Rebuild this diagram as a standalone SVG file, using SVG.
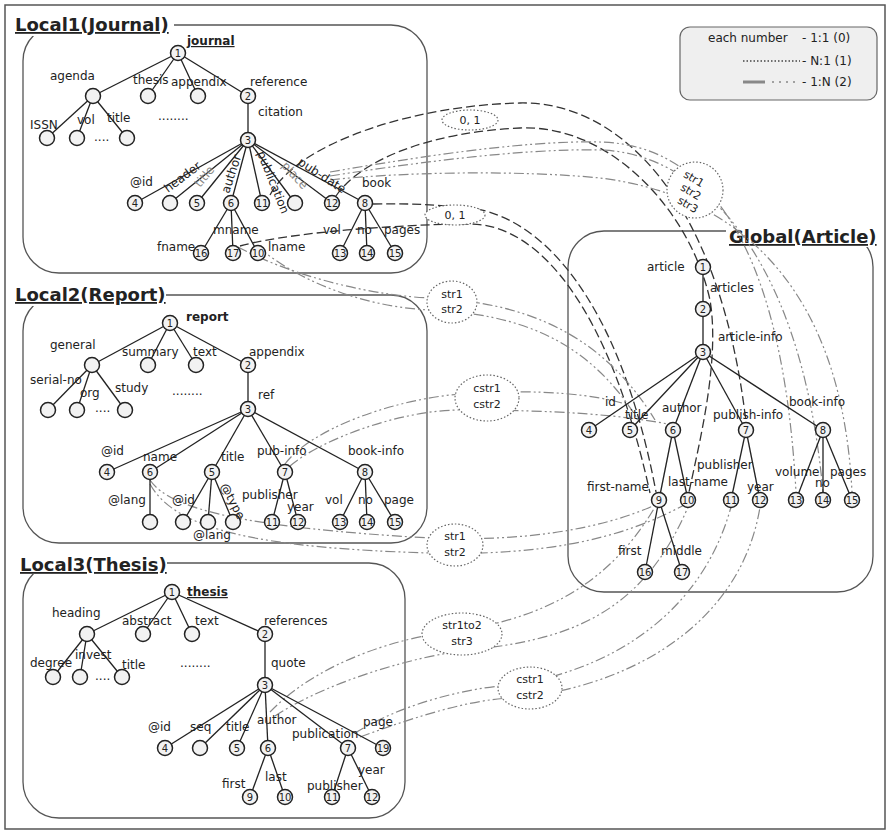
<svg xmlns="http://www.w3.org/2000/svg" width="890" height="834" viewBox="0 0 890 834">
<style>
text{font-family:"DejaVu Sans","Verdana",sans-serif;font-size:12px;fill:#222}
.t{font-size:18px;font-weight:bold;text-decoration:underline}
.b{font-weight:bold}
.u{text-decoration:underline}
.g{fill:#888}
.num{font-size:10px;text-anchor:middle}
.box{fill:none;stroke:#555;stroke-width:1.3}
.c{fill:#f2f2f2;stroke:#222;stroke-width:1.5}
.dsh{fill:none;stroke:#333;stroke-width:1.3;stroke-dasharray:9 4}
.dd{fill:none;stroke:#888;stroke-width:1.2;stroke-dasharray:10 3 2 3 2 3}
.dt{fill:#fff;stroke:#666;stroke-width:1.2;stroke-dasharray:1.5 2}
.lab{font-size:11px;text-anchor:middle}
</style>
<rect x="5" y="5" width="880" height="824" fill="#fff" stroke="#555" stroke-width="1.5"/>

<!-- boxes -->
<g id="local1-box"><rect class="box" x="23" y="25" width="404" height="248" rx="36"/><rect x="12" y="11" width="162" height="25" fill="#fff"/><text class="t" x="15" y="31">Local1(Journal)</text></g>
<g id="local2-box"><rect class="box" x="23" y="295" width="404" height="248" rx="36"/><rect x="12" y="281" width="154" height="25" fill="#fff"/><text class="t" x="15" y="301">Local2(Report)</text></g>
<g id="local3-box"><rect class="box" x="23" y="563" width="382" height="255" rx="36"/><rect x="17" y="551" width="150" height="23" fill="#fff"/><text class="t" x="20" y="571">Local3(Thesis)</text></g>
<g id="global-box"><rect class="box" x="568" y="231" width="305" height="361" rx="36"/><rect x="726" y="222" width="154" height="25" fill="#fff"/><text class="t" x="729" y="243">Global(Article)</text></g>

<g id="legend">
<rect x="680" y="27" width="197" height="73" rx="10" fill="#efefef" stroke="#666" stroke-width="1.2"/>
<text x="708" y="42">each number</text><text x="802" y="42">-  1:1 (0)</text>
<line x1="743" y1="61" x2="800" y2="61" stroke="#444" stroke-width="1.5" stroke-dasharray="1.5 2"/>
<text x="802" y="65">-  N:1 (1)</text>
<line x1="743" y1="82" x2="765" y2="82" stroke="#888" stroke-width="3"/>
<line x1="772" y1="82" x2="800" y2="82" stroke="#888" stroke-width="1.5" stroke-dasharray="2 5"/>
<text x="802" y="86">-  1:N (2)</text>
</g>

<!-- connectors -->
<g id="connectors">
<path class="dsh" d="M270,195 C300,140 420,105 520,103 C620,101 720,200 746,422"/>
<path class="dsh" d="M336,196 C360,160 430,132 520,128 C610,124 690,210 710,300 C720,360 700,440 689,492"/>
<path class="dsh" d="M373,204 C420,203 440,206 460,207 C540,210 620,300 656,492"/>
<path class="dsh" d="M240,246 C300,230 420,224 470,224 C540,224 610,310 650,493"/>
<path class="dd" d="M330,172 C400,160 520,140 600,142 C680,144 780,200 796,492"/>
<path class="dd" d="M330,176 C400,165 520,148 600,150 C690,152 800,240 823,492"/>
<path class="dd" d="M330,180 C400,172 520,170 600,178 C700,190 840,250 852,492"/>
<path class="dd" d="M238,247 C300,280 380,296 430,298 C520,302 600,330 655,420"/>
<path class="dd" d="M258,247 C310,290 380,308 430,310 C520,314 590,340 640,423"/>
<path class="dd" d="M285,464 C310,430 390,400 460,394 C540,388 600,395 628,405"/>
<path class="dd" d="M290,466 C320,440 400,410 460,410 C560,410 620,415 668,424"/>
<path class="dd" d="M150,480 C170,510 250,528 430,538 C520,542 600,530 655,505"/>
<path class="dd" d="M150,484 C175,530 260,548 430,553 C540,556 620,540 684,505"/>
<path class="dd" d="M270,712 C320,660 400,640 430,635 C520,624 600,600 655,507"/>
<path class="dd" d="M275,716 C330,680 420,655 470,650 C560,640 640,620 688,507"/>
<path class="dd" d="M355,733 C400,705 460,690 500,686 C600,676 700,620 731,507"/>
<path class="dd" d="M360,737 C420,715 470,700 510,698 C620,690 740,630 760,507"/>
<ellipse class="dt" cx="470" cy="120" rx="28" ry="10"/><text class="lab" x="470" y="124">0, 1</text>
<ellipse class="dt" cx="455" cy="215" rx="30" ry="10"/><text class="lab" x="455" y="219">0, 1</text>
<ellipse class="dt" cx="695" cy="190" rx="28" ry="28"/>
<text class="lab" x="692" y="182" transform="rotate(30 692 182)">str1</text>
<text class="lab" x="689" y="195" transform="rotate(30 689 195)">str2</text>
<text class="lab" x="686" y="208" transform="rotate(30 686 208)">str3</text>
<ellipse class="dt" cx="452" cy="302" rx="25" ry="21"/><text class="lab" x="452" y="298">str1</text><text class="lab" x="452" y="313">str2</text>
<ellipse class="dt" cx="487" cy="398" rx="32" ry="23"/><text class="lab" x="487" y="392">cstr1</text><text class="lab" x="487" y="408">cstr2</text>
<ellipse class="dt" cx="455" cy="545" rx="28" ry="21"/><text class="lab" x="455" y="540">str1</text><text class="lab" x="455" y="556">str2</text>
<ellipse class="dt" cx="462" cy="634" rx="40" ry="21"/><text class="lab" x="462" y="629">str1to2</text><text class="lab" x="462" y="645">str3</text>
<ellipse class="dt" cx="530" cy="688" rx="32" ry="21"/><text class="lab" x="530" y="683">cstr1</text><text class="lab" x="530" y="699">cstr2</text>
</g>

<!-- Local1 tree -->
<g id="local1-edges" stroke="#222" stroke-width="1.3">
<line x1="178" y1="53" x2="93" y2="96"/><line x1="178" y1="53" x2="148" y2="96"/><line x1="178" y1="53" x2="198" y2="96"/><line x1="178" y1="53" x2="248" y2="96"/>
<line x1="93" y1="96" x2="47" y2="138"/><line x1="93" y1="96" x2="77" y2="138"/><line x1="93" y1="96" x2="127" y2="138"/>
<line x1="248" y1="96" x2="248" y2="140"/>
<line x1="248" y1="140" x2="135" y2="203"/><line x1="248" y1="140" x2="170" y2="203"/><line x1="248" y1="140" x2="197" y2="203"/><line x1="248" y1="140" x2="231" y2="203"/><line x1="248" y1="140" x2="262" y2="203"/><line x1="248" y1="140" x2="295" y2="203"/><line x1="248" y1="140" x2="332" y2="203"/><line x1="248" y1="140" x2="365" y2="203"/>
<line x1="231" y1="203" x2="201" y2="253"/><line x1="231" y1="203" x2="233" y2="253"/><line x1="231" y1="203" x2="258" y2="253"/>
<line x1="365" y1="203" x2="340" y2="253"/><line x1="365" y1="203" x2="367" y2="253"/><line x1="365" y1="203" x2="395" y2="253"/>
</g>
<g id="l1-n1"><circle class="c" cx="178" cy="53" r="7.5"/><text class="num" x="178" y="57">1</text><text class="b u" x="187" y="45">journal</text></g>
<g id="l1-agenda"><circle class="c" cx="93" cy="96" r="7.5"/><text x="50" y="80">agenda</text></g>
<g id="l1-thesis"><circle class="c" cx="148" cy="96" r="7.5"/><text x="133" y="84">thesis</text></g>
<g id="l1-appendix"><circle class="c" cx="198" cy="96" r="7.5"/><text x="171" y="86">appendix</text></g>
<g id="l1-n2"><circle class="c" cx="248" cy="96" r="7.5"/><text class="num" x="248" y="100">2</text><text x="250" y="86">reference</text><text x="258" y="116">citation</text></g>
<g id="l1-issn"><circle class="c" cx="47" cy="138" r="7.5"/><text x="30" y="129">ISSN</text></g>
<g id="l1-vol"><circle class="c" cx="77" cy="138" r="7.5"/><text x="77" y="124">vol</text><text x="94" y="141" font-size="8">....</text></g>
<g id="l1-title"><circle class="c" cx="127" cy="138" r="7.5"/><text x="107" y="122">title</text><text x="158" y="120" font-size="8">........</text></g>
<g id="l1-n3"><circle class="c" cx="248" cy="140" r="7.5"/><text class="num" x="248" y="144">3</text></g>
<g id="l1-n4"><circle class="c" cx="135" cy="203" r="7.5"/><text class="num" x="135" y="207">4</text><text x="130" y="186">@id</text></g>
<g id="l1-header"><circle class="c" cx="170" cy="203" r="7.5"/><text x="168" y="193" transform="rotate(-37 168 193)">header</text></g>
<g id="l1-n5"><circle class="c" cx="197" cy="203" r="7.5"/><text class="num" x="197" y="207">5</text><text class="g" x="200" y="188" transform="rotate(-50 200 188)">title</text></g>
<g id="l1-n6"><circle class="c" cx="231" cy="203" r="7.5"/><text class="num" x="231" y="207">6</text><text x="229" y="194" transform="rotate(-72 229 194)">author</text></g>
<g id="l1-n11"><circle class="c" cx="262" cy="203" r="7.5"/><text class="num" x="262" y="207">11</text><text x="257" y="153" transform="rotate(68 257 153)">publication</text></g>
<g id="l1-place"><circle class="c" cx="295" cy="203" r="7.5"/><text class="g" x="281" y="166" transform="rotate(48 281 166)">place</text></g>
<g id="l1-n12"><circle class="c" cx="332" cy="203" r="7.5"/><text class="num" x="332" y="207">12</text><text x="297" y="164" transform="rotate(33 297 164)">pub-date</text></g>
<g id="l1-n8"><circle class="c" cx="365" cy="203" r="7.5"/><text class="num" x="365" y="207">8</text><text x="362" y="187">book</text></g>
<g id="l1-n16"><circle class="c" cx="201" cy="253" r="7.5"/><text class="num" x="201" y="257">16</text><text x="157" y="251">fname</text></g>
<g id="l1-n17"><circle class="c" cx="233" cy="253" r="7.5"/><text class="num" x="233" y="257">17</text><text x="213" y="234">mname</text></g>
<g id="l1-n10"><circle class="c" cx="258" cy="253" r="7.5"/><text class="num" x="258" y="257">10</text><text x="268" y="251">lname</text></g>
<g id="l1-n13"><circle class="c" cx="340" cy="253" r="7.5"/><text class="num" x="340" y="257">13</text><text x="323" y="234">vol</text></g>
<g id="l1-n14"><circle class="c" cx="367" cy="253" r="7.5"/><text class="num" x="367" y="257">14</text><text x="357" y="234">no</text></g>
<g id="l1-n15"><circle class="c" cx="395" cy="253" r="7.5"/><text class="num" x="395" y="257">15</text><text x="384" y="234">pages</text></g>

<!-- Local2 tree -->
<g id="local2-edges" stroke="#222" stroke-width="1.3">
<line x1="170" y1="323" x2="92" y2="365"/><line x1="170" y1="323" x2="148" y2="365"/><line x1="170" y1="323" x2="196" y2="365"/><line x1="170" y1="323" x2="248" y2="365"/>
<line x1="92" y1="365" x2="48" y2="410"/><line x1="92" y1="365" x2="77" y2="410"/><line x1="92" y1="365" x2="125" y2="410"/>
<line x1="248" y1="365" x2="248" y2="409"/>
<line x1="248" y1="409" x2="107" y2="472"/><line x1="248" y1="409" x2="150" y2="472"/><line x1="248" y1="409" x2="212" y2="472"/><line x1="248" y1="409" x2="285" y2="472"/><line x1="248" y1="409" x2="365" y2="472"/>
<line x1="150" y1="472" x2="150" y2="522"/>
<line x1="212" y1="472" x2="183" y2="522"/><line x1="212" y1="472" x2="208" y2="522"/><line x1="212" y1="472" x2="233" y2="522"/>
<line x1="285" y1="472" x2="272" y2="522"/><line x1="285" y1="472" x2="298" y2="522"/>
<line x1="365" y1="472" x2="340" y2="522"/><line x1="365" y1="472" x2="367" y2="522"/><line x1="365" y1="472" x2="395" y2="522"/>
</g>
<g id="l2-n1"><circle class="c" cx="170" cy="323" r="7.5"/><text class="num" x="170" y="327">1</text><text class="b" x="186" y="321">report</text></g>
<g id="l2-general"><circle class="c" cx="92" cy="365" r="7.5"/><text x="50" y="349">general</text></g>
<g id="l2-summary"><circle class="c" cx="148" cy="365" r="7.5"/><text x="122" y="356">summary</text></g>
<g id="l2-text"><circle class="c" cx="196" cy="365" r="7.5"/><text x="193" y="356">text</text></g>
<g id="l2-n2"><circle class="c" cx="248" cy="365" r="7.5"/><text class="num" x="248" y="369">2</text><text x="249" y="356">appendix</text><text x="258" y="399">ref</text></g>
<g id="l2-serial"><circle class="c" cx="48" cy="410" r="7.5"/><text x="30" y="384">serial-no</text></g>
<g id="l2-org"><circle class="c" cx="77" cy="410" r="7.5"/><text x="80" y="397">org</text><text x="95" y="412" font-size="8">....</text></g>
<g id="l2-study"><circle class="c" cx="125" cy="410" r="7.5"/><text x="115" y="392">study</text><text x="172" y="395" font-size="8">........</text></g>
<g id="l2-n3"><circle class="c" cx="248" cy="409" r="7.5"/><text class="num" x="248" y="413">3</text></g>
<g id="l2-n4"><circle class="c" cx="107" cy="472" r="7.5"/><text class="num" x="107" y="476">4</text><text x="101" y="455">@id</text></g>
<g id="l2-n6"><circle class="c" cx="150" cy="472" r="7.5"/><text class="num" x="150" y="476">6</text><text x="143" y="461">name</text></g>
<g id="l2-n5"><circle class="c" cx="212" cy="472" r="7.5"/><text class="num" x="212" y="476">5</text><text x="221" y="461">title</text></g>
<g id="l2-n7"><circle class="c" cx="285" cy="472" r="7.5"/><text class="num" x="285" y="476">7</text><text x="257" y="455">pub-info</text></g>
<g id="l2-n8"><circle class="c" cx="365" cy="472" r="7.5"/><text class="num" x="365" y="476">8</text><text x="348" y="455">book-info</text></g>
<g id="l2-lang"><circle class="c" cx="150" cy="522" r="7.5"/><text x="108" y="504">@lang</text></g>
<g id="l2-id"><circle class="c" cx="183" cy="522" r="7.5"/><text x="172" y="504">@id</text></g>
<g id="l2-lang2"><circle class="c" cx="208" cy="522" r="7.5"/><text x="193" y="539">@lang</text></g>
<g id="l2-type"><circle class="c" cx="233" cy="522" r="7.5"/><text x="220" y="486" transform="rotate(62 220 486)">@type</text></g>
<g id="l2-n11"><circle class="c" cx="272" cy="522" r="7.5"/><text class="num" x="272" y="526">11</text><text x="242" y="499">publisher</text></g>
<g id="l2-n12"><circle class="c" cx="298" cy="522" r="7.5"/><text class="num" x="298" y="526">12</text><text x="287" y="511">year</text></g>
<g id="l2-n13"><circle class="c" cx="340" cy="522" r="7.5"/><text class="num" x="340" y="526">13</text><text x="325" y="504">vol</text></g>
<g id="l2-n14"><circle class="c" cx="367" cy="522" r="7.5"/><text class="num" x="367" y="526">14</text><text x="358" y="504">no</text></g>
<g id="l2-n15"><circle class="c" cx="395" cy="522" r="7.5"/><text class="num" x="395" y="526">15</text><text x="384" y="504">page</text></g>

<!-- Local3 tree -->
<g id="local3-edges" stroke="#222" stroke-width="1.3">
<line x1="172" y1="592" x2="87" y2="634"/><line x1="172" y1="592" x2="143" y2="634"/><line x1="172" y1="592" x2="192" y2="634"/><line x1="172" y1="592" x2="265" y2="634"/>
<line x1="87" y1="634" x2="53" y2="677"/><line x1="87" y1="634" x2="80" y2="677"/><line x1="87" y1="634" x2="122" y2="677"/>
<line x1="265" y1="634" x2="265" y2="685"/>
<line x1="265" y1="685" x2="165" y2="748"/><line x1="265" y1="685" x2="200" y2="748"/><line x1="265" y1="685" x2="237" y2="748"/><line x1="265" y1="685" x2="268" y2="748"/><line x1="265" y1="685" x2="348" y2="748"/><line x1="265" y1="685" x2="383" y2="748"/>
<line x1="268" y1="748" x2="250" y2="797"/><line x1="268" y1="748" x2="285" y2="797"/>
<line x1="348" y1="748" x2="332" y2="797"/><line x1="348" y1="748" x2="372" y2="797"/>
</g>
<g id="l3-n1"><circle class="c" cx="172" cy="592" r="7.5"/><text class="num" x="172" y="596">1</text><text class="b u" x="187" y="596">thesis</text></g>
<g id="l3-heading"><circle class="c" cx="87" cy="634" r="7.5"/><text x="52" y="617">heading</text></g>
<g id="l3-abstract"><circle class="c" cx="143" cy="634" r="7.5"/><text x="122" y="625">abstract</text></g>
<g id="l3-text"><circle class="c" cx="192" cy="634" r="7.5"/><text x="195" y="625">text</text></g>
<g id="l3-n2"><circle class="c" cx="265" cy="634" r="7.5"/><text class="num" x="265" y="638">2</text><text x="264" y="625">references</text><text x="271" y="667">quote</text></g>
<g id="l3-degree"><circle class="c" cx="53" cy="677" r="7.5"/><text x="30" y="667">degree</text></g>
<g id="l3-invest"><circle class="c" cx="80" cy="677" r="7.5"/><text x="75" y="659">invest</text><text x="95" y="680" font-size="8">....</text></g>
<g id="l3-title"><circle class="c" cx="122" cy="677" r="7.5"/><text x="122" y="669">title</text><text x="180" y="667" font-size="8">........</text></g>
<g id="l3-n3"><circle class="c" cx="265" cy="685" r="7.5"/><text class="num" x="265" y="689">3</text></g>
<g id="l3-n4"><circle class="c" cx="165" cy="748" r="7.5"/><text class="num" x="165" y="752">4</text><text x="148" y="731">@id</text></g>
<g id="l3-seq"><circle class="c" cx="200" cy="748" r="7.5"/><text x="190" y="731">seq</text></g>
<g id="l3-n5"><circle class="c" cx="237" cy="748" r="7.5"/><text class="num" x="237" y="752">5</text><text x="226" y="731">title</text></g>
<g id="l3-n6"><circle class="c" cx="268" cy="748" r="7.5"/><text class="num" x="268" y="752">6</text><text x="257" y="724">author</text></g>
<g id="l3-n7"><circle class="c" cx="348" cy="748" r="7.5"/><text class="num" x="348" y="752">7</text><text x="292" y="738">publication</text></g>
<g id="l3-n19"><circle class="c" cx="383" cy="748" r="7.5"/><text class="num" x="383" y="752">19</text><text x="363" y="726">page</text></g>
<g id="l3-n9"><circle class="c" cx="250" cy="797" r="7.5"/><text class="num" x="250" y="801">9</text><text x="222" y="788">first</text></g>
<g id="l3-n10"><circle class="c" cx="285" cy="797" r="7.5"/><text class="num" x="285" y="801">10</text><text x="265" y="781">last</text></g>
<g id="l3-n11"><circle class="c" cx="332" cy="797" r="7.5"/><text class="num" x="332" y="801">11</text><text x="307" y="790">publisher</text></g>
<g id="l3-n12"><circle class="c" cx="372" cy="797" r="7.5"/><text class="num" x="372" y="801">12</text><text x="358" y="774">year</text></g>

<!-- Global tree -->
<g id="global-edges" stroke="#222" stroke-width="1.3">
<line x1="703" y1="267" x2="703" y2="352"/>
<line x1="703" y1="352" x2="589" y2="430"/><line x1="703" y1="352" x2="630" y2="430"/><line x1="703" y1="352" x2="673" y2="430"/><line x1="703" y1="352" x2="746" y2="430"/><line x1="703" y1="352" x2="823" y2="430"/>
<line x1="673" y1="430" x2="659" y2="500"/><line x1="673" y1="430" x2="688" y2="500"/>
<line x1="746" y1="430" x2="731" y2="500"/><line x1="746" y1="430" x2="760" y2="500"/>
<line x1="823" y1="430" x2="796" y2="500"/><line x1="823" y1="430" x2="823" y2="500"/><line x1="823" y1="430" x2="852" y2="500"/>
<line x1="659" y1="500" x2="645" y2="572"/><line x1="659" y1="500" x2="682" y2="572"/>
</g>
<g id="g-n1"><circle class="c" cx="703" cy="267" r="7.5"/><text class="num" x="703" y="271">1</text><text x="647" y="271">article</text></g>
<g id="g-n2"><circle class="c" cx="703" cy="309" r="7.5"/><text class="num" x="703" y="313">2</text><text x="710" y="292">articles</text></g>
<g id="g-n3"><circle class="c" cx="703" cy="352" r="7.5"/><text class="num" x="703" y="356">3</text><text x="718" y="341">article-info</text></g>
<g id="g-n4"><circle class="c" cx="589" cy="430" r="7.5"/><text class="num" x="589" y="434">4</text><text x="605" y="406">id</text></g>
<g id="g-n5"><circle class="c" cx="630" cy="430" r="7.5"/><text class="num" x="630" y="434">5</text><text x="625" y="419">title</text></g>
<g id="g-n6"><circle class="c" cx="673" cy="430" r="7.5"/><text class="num" x="673" y="434">6</text><text x="662" y="412">author</text></g>
<g id="g-n7"><circle class="c" cx="746" cy="430" r="7.5"/><text class="num" x="746" y="434">7</text><text x="713" y="419">publish-info</text></g>
<g id="g-n8"><circle class="c" cx="823" cy="430" r="7.5"/><text class="num" x="823" y="434">8</text><text x="789" y="406">book-info</text></g>
<g id="g-n9"><circle class="c" cx="659" cy="500" r="7.5"/><text class="num" x="659" y="504">9</text><text x="587" y="491">first-name</text></g>
<g id="g-n10"><circle class="c" cx="688" cy="500" r="7.5"/><text class="num" x="688" y="504">10</text><text x="668" y="486">last-name</text></g>
<g id="g-n11"><circle class="c" cx="731" cy="500" r="7.5"/><text class="num" x="731" y="504">11</text><text x="697" y="469">publisher</text></g>
<g id="g-n12"><circle class="c" cx="760" cy="500" r="7.5"/><text class="num" x="760" y="504">12</text><text x="747" y="491">year</text></g>
<g id="g-n13"><circle class="c" cx="796" cy="500" r="7.5"/><text class="num" x="796" y="504">13</text><text x="775" y="476">volume</text></g>
<g id="g-n14"><circle class="c" cx="823" cy="500" r="7.5"/><text class="num" x="823" y="504">14</text><text x="815" y="487">no</text></g>
<g id="g-n15"><circle class="c" cx="852" cy="500" r="7.5"/><text class="num" x="852" y="504">15</text><text x="830" y="476">pages</text></g>
<g id="g-n16"><circle class="c" cx="645" cy="572" r="7.5"/><text class="num" x="645" y="576">16</text><text x="618" y="555">first</text></g>
<g id="g-n17"><circle class="c" cx="682" cy="572" r="7.5"/><text class="num" x="682" y="576">17</text><text x="661" y="555">middle</text></g>
</svg>
